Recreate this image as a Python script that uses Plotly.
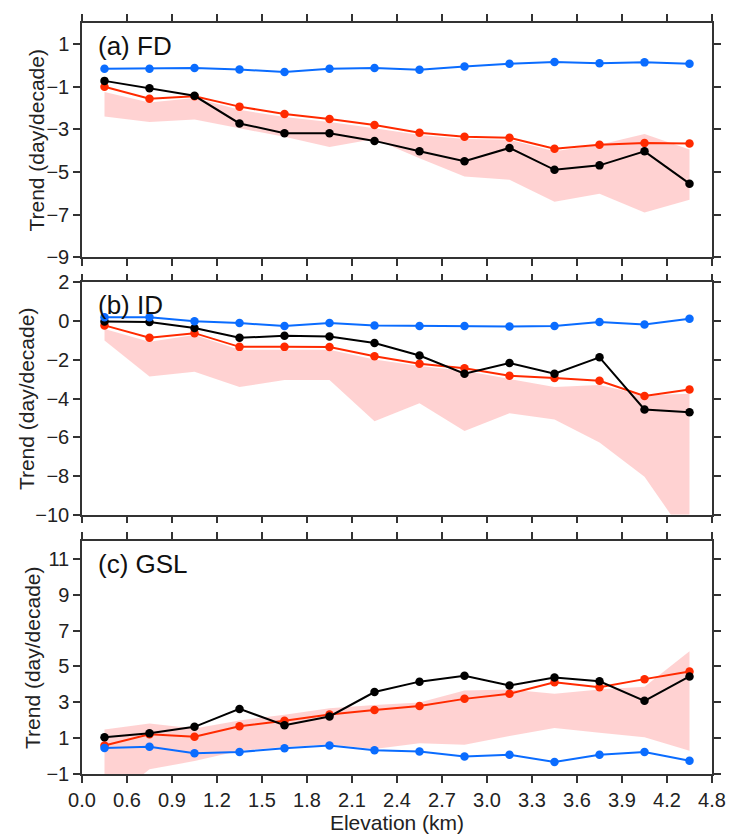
import plotly.graph_objects as go

# ---------------- data ----------------
elev = [0.15, 0.45, 0.75, 1.05, 1.35, 1.65, 1.95, 2.25, 2.55, 2.85, 3.15, 3.45, 3.75, 4.05]
tick_vals = [0.0, 0.3, 0.6, 0.9, 1.2, 1.5, 1.8, 2.1, 2.4, 2.7, 3.0, 3.3, 3.6, 3.9, 4.2]
tick_text = ["0.0", "0.6", "0.9", "1.2", "1.5", "1.8", "2.1", "2.4", "2.7", "3.0",
             "3.3", "3.6", "3.9", "4.2", "4.8"]

# (a) FD
fd_blue = [-0.15, -0.15, -0.12, -0.19, -0.30, -0.15, -0.12, -0.20, -0.04, 0.08, 0.17, 0.11, 0.15, 0.09]
fd_black = [-0.72, -1.07, -1.42, -2.72, -3.18, -3.18, -3.54, -4.03, -4.50, -3.87, -4.90, -4.69, -4.03, -5.55]
fd_red = [-1.00, -1.56, -1.44, -1.93, -2.28, -2.51, -2.79, -3.16, -3.34, -3.39, -3.91, -3.72, -3.64, -3.66]
fd_upper = [-1.24, -1.73, -1.53, -2.08, -2.42, -2.65, -2.95, -3.26, -3.45, -3.49, -4.03, -3.72, -3.22, -3.95]
fd_lower = [-2.39, -2.65, -2.54, -2.95, -3.34, -3.83, -3.45, -4.35, -5.21, -5.36, -6.40, -6.02, -6.90, -6.30]

# (b) ID
id_blue = [0.20, 0.20, 0.00, -0.10, -0.25, -0.10, -0.23, -0.25, -0.25, -0.28, -0.25, -0.05, -0.17, 0.12]
id_black = [-0.02, -0.05, -0.35, -0.86, -0.76, -0.79, -1.13, -1.78, -2.72, -2.17, -2.72, -1.87, -4.57, -4.71]
id_red = [-0.22, -0.86, -0.62, -1.33, -1.33, -1.34, -1.82, -2.20, -2.44, -2.82, -2.94, -3.08, -3.87, -3.53]
id_upper = [-0.40, -1.06, -0.72, -1.48, -1.48, -1.48, -1.98, -2.32, -2.57, -3.00, -3.41, -3.30, -3.83, -3.75]
id_lower = [-1.00, -2.86, -2.62, -3.41, -3.04, -3.04, -5.18, -4.25, -5.68, -4.76, -5.09, -6.27, -8.04, -11.40]

# (c) GSL
gsl_blue = [0.45, 0.52, 0.16, 0.23, 0.43, 0.59, 0.32, 0.25, -0.02, 0.07, -0.33, 0.07, 0.23, -0.26]
gsl_black = [1.05, 1.27, 1.63, 2.63, 1.72, 2.21, 3.57, 4.15, 4.48, 3.93, 4.38, 4.17, 3.08, 4.44]
gsl_red = [0.59, 1.21, 1.08, 1.66, 1.97, 2.32, 2.57, 2.79, 3.19, 3.48, 4.11, 3.84, 4.29, 4.71]
gsl_upper = [1.48, 1.81, 1.54, 1.99, 2.30, 2.66, 2.85, 2.99, 3.66, 3.71, 3.48, 3.71, 3.86, 5.84]
gsl_lower = [-2.80, -0.73, -0.28, 0.30, 0.50, 0.65, 0.40, 0.72, 0.63, 1.12, 1.57, 1.30, 1.05, 0.30]

panel_labels = ["(a) FD", "(b) ID", "(c) GSL"]
y_title = "Trend (day/decade)"
x_title = "Elevation (km)"
y_ranges = [[-9, 2], [-10, 2], [-1, 12]]
y_ticks = [[-9, -7, -5, -3, -1, 1], [-10, -8, -6, -4, -2, 0, 2], [-1, 1, 3, 5, 7, 9, 11]]
domains = [[0.6883, 1.0], [0.3455, 0.6545], [0.0, 0.3104]]
ytitle_px = [36, 26, 32]          # horizontal centre of each y-title (pixels from left)

BLUE = "#0a6cff"
RED = "#ff2a00"
BLACK = "#000000"
BAND = "rgba(255,195,195,0.75)"
AXC = "#333333"
FONT = "Liberation Sans, Arial, Helvetica, sans-serif"

ML, MR, MT, MB = 82, 19, 15, 52
W, H = 738, 837
PW = W - ML - MR

panels = [
    (fd_blue, fd_black, fd_red, fd_upper, fd_lower),
    (id_blue, id_black, id_red, id_upper, id_lower),
    (gsl_blue, gsl_black, gsl_red, gsl_upper, gsl_lower),
]

fig = go.Figure()
for i, (b, k, r, up, lo) in enumerate(panels):
    xa = "x" if i == 0 else f"x{i+1}"
    ya = "y" if i == 0 else f"y{i+1}"
    fig.add_trace(go.Scatter(
        x=elev + elev[::-1], y=up + lo[::-1], fill="toself", fillcolor=BAND,
        line=dict(width=0), mode="lines", xaxis=xa, yaxis=ya, hoverinfo="skip",
        showlegend=False))
    for series, col in ((r, RED), (k, BLACK), (b, BLUE)):
        fig.add_trace(go.Scatter(
            x=elev, y=series, mode="lines+markers", xaxis=xa, yaxis=ya,
            line=dict(color=col, width=2), marker=dict(color=col, size=8.5),
            showlegend=False))

axis_common = dict(showline=True, linecolor=AXC, linewidth=1.5, mirror="ticks",
                   ticks="outside", ticklen=7, tickwidth=1.5, tickcolor=AXC,
                   showgrid=False, zeroline=False,
                   tickfont=dict(family=FONT, size=20, color="#222"))

layout = dict(width=W, height=H, plot_bgcolor="white", paper_bgcolor="white",
              margin=dict(l=ML, r=MR, t=MT, b=MB), showlegend=False,
              font=dict(family=FONT, color="#222"))

for i in range(3):
    xk = "xaxis" if i == 0 else f"xaxis{i+1}"
    yk = "yaxis" if i == 0 else f"yaxis{i+1}"
    ya = "y" if i == 0 else f"y{i+1}"
    xa = "x" if i == 0 else f"x{i+1}"
    xdict = dict(axis_common, range=[0, 4.2], tickvals=tick_vals, ticktext=tick_text,
                 anchor=ya, domain=[0, 1], showticklabels=(i == 2))
    if i == 2:
        xdict["title"] = dict(text=x_title, font=dict(family=FONT, size=21, color="#222"),
                              standoff=0)
    layout[xk] = xdict
    layout[yk] = dict(axis_common, range=y_ranges[i], tickvals=y_ticks[i], anchor=xa,
                      domain=domains[i])

fig.update_layout(**layout)

for i, lab in enumerate(panel_labels):
    xr = "x domain" if i == 0 else f"x{i+1} domain"
    yr = "y domain" if i == 0 else f"y{i+1} domain"
    fig.add_annotation(text=lab, xref=xr, yref=yr, x=0.022, y=0.975, xanchor="left",
                       yanchor="top", showarrow=False,
                       font=dict(family=FONT, size=26, color="#111"))
    # y-axis title as rotated text
    fig.add_annotation(text=y_title, xref="paper", yref=yr,
                       x=(ytitle_px[i] - ML) / PW, y=0.5, xanchor="center", yanchor="middle",
                       textangle=-90, showarrow=False,
                       font=dict(family=FONT, size=21, color="#222"))

fig.write_html("out.html")
